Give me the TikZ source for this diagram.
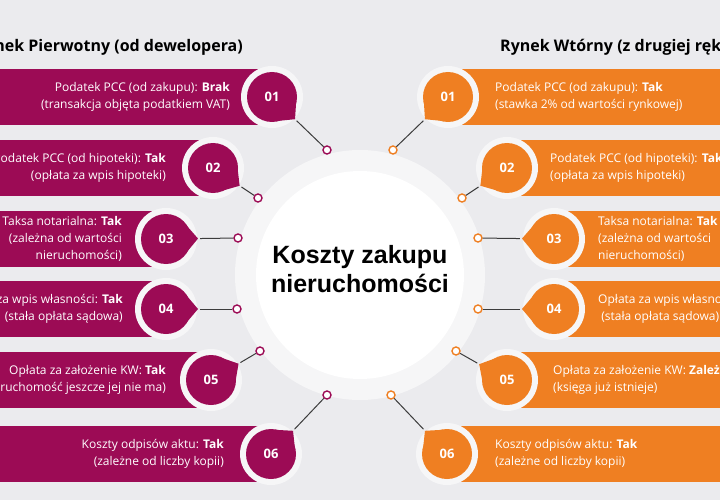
\documentclass[tikz,border=0pt]{standalone}
\usepackage{fontspec}
\setmainfont{Open Sans}
\newfontfamily\titlefont{Liberation Sans}
\usetikzlibrary{calc}
\definecolor{pk}{HTML}{9C0B55}
\definecolor{og}{HTML}{EF7F22}
\definecolor{bg}{HTML}{EBEBEE}
\definecolor{ln}{HTML}{3C3C3C}
\begin{document}
\begin{tikzpicture}[x=1pt,y=-1pt,
 num/.style={circle,minimum size=50pt,inner sep=0,text=white,font=\bfseries\fontsize{13}{13}\selectfont},
 dot/.style={circle,draw=#1,fill=white,line width=1.4pt,minimum size=8pt,inner sep=0},
 lbl/.style={text=white,font=\fontsize{12}{17}\selectfont,inner sep=0},
 halo/.style={fill=white!55!bg},
 conn/.style={draw=ln,line width=1pt,shorten >=9pt}]
\useasboundingbox (0,0) rectangle (720,500);
\clip (0,0) rectangle (720,500);
\fill[bg] (0,0) rectangle (720,500);
\fill[halo] (360,275) circle (125pt);
\fill[white] (360,275) circle (104pt);
\node[font=\titlefont\bfseries\fontsize{25}{29}\selectfont,align=center,text=black] (title) at (360,269) {Koszty zakupu\\nieruchomości};
\node[font=\bfseries\fontsize{16}{16}\selectfont,anchor=east,inner sep=0] (hl) at (243,47) {Rynek Pierwotny (od dewelopera)};
\node[font=\bfseries\fontsize{16}{16}\selectfont,anchor=west,inner sep=0] (hr) at (500,47) {Rynek Wtórny (z drugiej ręki)};
% left side
\foreach \k/\cx/\cy/\ex/\ey/\tx/\txt in {
 1/272/97/327/150/230/{Podatek PCC (od zakupu): \textbf{Brak}\\(transakcja objęta podatkiem VAT)},
 2/213/168/258/198/166/{Podatek PCC (od hipoteki): \textbf{Tak}\\(opłata za wpis hipoteki)},
 3/166/239/238/238/122/{Taksa notarialna: \textbf{Tak}\\(zależna od wartości\\nieruchomości)},
 4/166/309/237/309/123/{Opłata za wpis własności: \textbf{Tak}\\(stała opłata sądowa)},
 5/211/380/260/351/166/{Opłata za założenie KW: \textbf{Tak}\\(nieruchomość jeszcze jej nie ma)},
 6/271/454/327/395/224/{Koszty odpisów aktu: \textbf{Tak}\\(zależne od liczby kopii)}}{
 \fill[pk] (0,\cy-28) rectangle (\cx,\cy+28);
 \node[lbl,anchor=east,align=right] (lt\k) at (\tx,\cy) {\txt};
 \fill[halo] (\cx,\cy) circle (31pt);
 \node[num,fill=pk] (ln\k) at (\cx,\cy) {0\k};
 \node[dot=pk] (le\k) at (\ex,\ey) {};
 \path let \p1=($(le\k)-(ln\k)$), \n1={atan2(\y1,\x1)} in
   [fill=pk] ($(ln\k)+(\n1+35:24.5pt)$) -- ($(ln\k)+(\n1:32pt)$) -- ($(ln\k)+(\n1-35:24.5pt)$) -- cycle;
 \draw[conn] (le\k) -- (ln\k);
}
% right side
\foreach \k/\cx/\cy/\ex/\ey/\tx/\txt in {
 1/448/97/393/150/495/{Podatek PCC (od zakupu): \textbf{Tak}\\(stawka 2\% od wartości rynkowej)},
 2/507/168/462/198/550/{Podatek PCC (od hipoteki): \textbf{Tak}\\(opłata za wpis hipoteki)},
 3/554/239/478/238/598/{Taksa notarialna: \textbf{Tak}\\(zależna od wartości\\nieruchomości)},
 4/554/309/478/309/598/{Opłata za wpis własności: \textbf{Tak}\\\ (stała opłata sądowa)},
 5/507/380/456/351/553/{Opłata za założenie KW: \textbf{Zależy}\\(księga już istnieje)},
 6/447/454/391/395/495/{Koszty odpisów aktu: \textbf{Tak}\\(zależne od liczby kopii)}}{
 \fill[og] (\cx,\cy-28) rectangle (720,\cy+28);
 \node[lbl,anchor=west,align=left] (rt\k) at (\tx,\cy) {\txt};
 \fill[halo] (\cx,\cy) circle (31pt);
 \node[num,fill=og] (rn\k) at (\cx,\cy) {0\k};
 \node[dot=og] (re\k) at (\ex,\ey) {};
 \path let \p1=($(re\k)-(rn\k)$), \n1={atan2(\y1,\x1)} in
   [fill=og] ($(rn\k)+(\n1+35:24.5pt)$) -- ($(rn\k)+(\n1:32pt)$) -- ($(rn\k)+(\n1-35:24.5pt)$) -- cycle;
 \draw[conn] (re\k) -- (rn\k);
}
\end{tikzpicture}
\end{document}
